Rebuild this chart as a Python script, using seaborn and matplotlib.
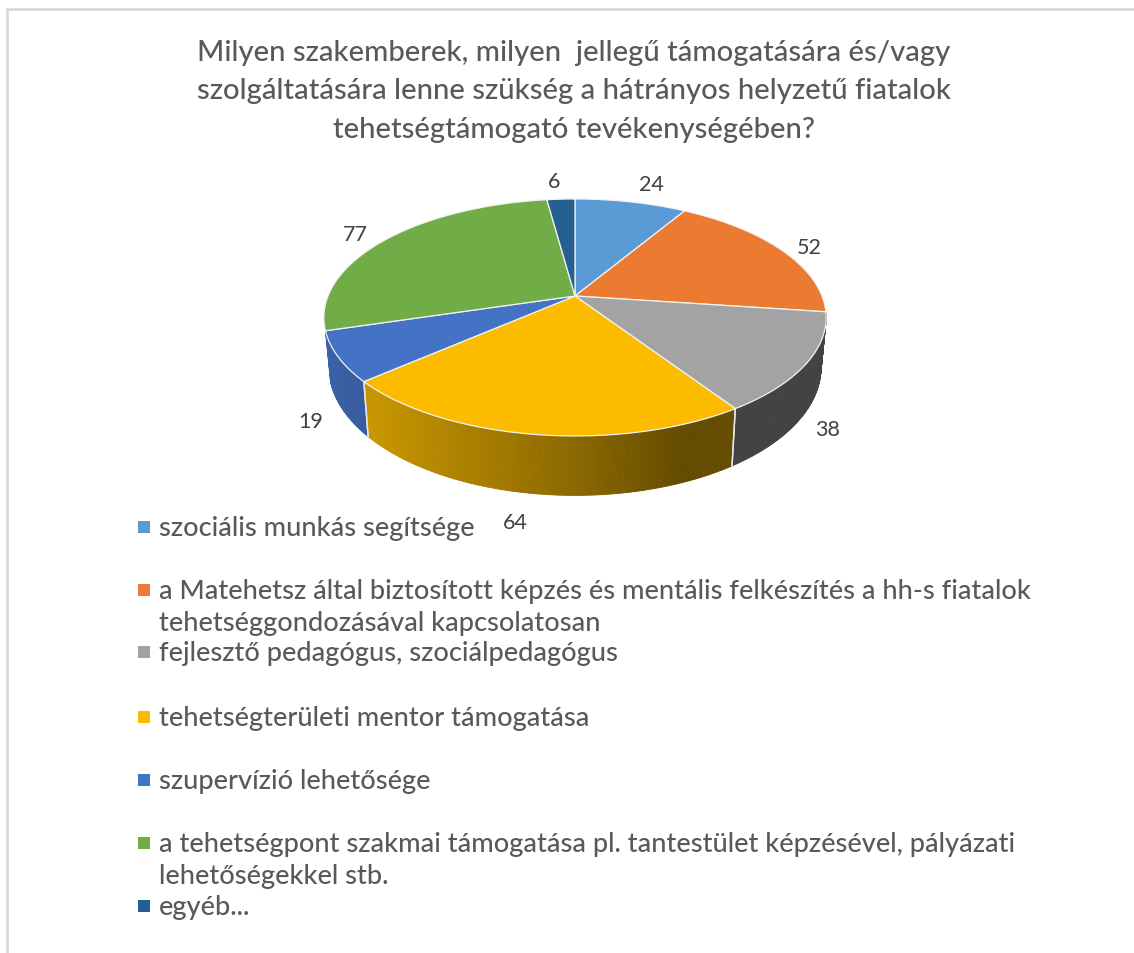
# -*- coding: utf-8 -*-
# 3D looking pie chart (perspective pie) with legend below
import numpy as np
import matplotlib
matplotlib.use('Agg')
import matplotlib.pyplot as plt
import seaborn as sns

title_lines = ['Milyen szakemberek, milyen  jellegű támogatására és/vagy',
               'szolgáltatására lenne szükség a hátrányos helyzetű fiatalok',
               'tehetségtámogató tevékenységében?']
categories = ['szociális munkás segítsége',
              'a Matehetsz által biztosított képzés és mentális felkészítés a hh-s fiatalok\ntehetséggondozásával kapcsolatosan',
              'fejlesztő pedagógus, szociálpedagógus',
              'tehetségterületi mentor támogatása',
              'szupervízió lehetősége',
              'a tehetségpont szakmai támogatása pl. tantestület képzésével, pályázati\nlehetőségekkel stb.',
              'egyéb...']
values = [24, 52, 38, 64, 19, 77, 6]
palette = sns.color_palette(['#5B9BD5', '#EB7B30', '#A3A3A3', '#FBBC00', '#4472C4', '#70AD47', '#255E91'])

sns.set_style('white')
plt.rcParams['font.family'] = ['Lato', 'DejaVu Sans']
GREY = '#595959'

fig = plt.figure(figsize=(11.34, 9.54), dpi=100)
ax = fig.add_axes([0, 0, 1, 1])
ax.set_xlim(0, 1134)
ax.set_ylim(954, 0)
ax.axis('off')

# chart frame, runs off the picture on the right and the bottom
ax.plot([1134, 7, 7], [10, 10, 954], color='#D9D9D9', lw=2, solid_joinstyle='miter')


# angle clockwise from 12 o'clock -> picture coordinates with perspective
def project(theta, cx, cy, k, a, c=0.181):
    x = np.sin(theta)
    y = np.cos(theta)
    d = 1 + c * y
    return cx + k * x / d, cy - a * y / d


def top(theta):
    return project(theta, 575, 297, 247, 114.6)


def bottom(theta):
    return project(theta, 575, 345, 242, 124)


# how dark the side wall gets going left to right
def shade(px):
    return np.interp(px, [330, 367, 570, 680, 830], [0.85, 0.80, 0.56, 0.40, 0.41])


edges = np.concatenate([[0], np.cumsum(values)]) / sum(values) * 2 * np.pi

# side wall, only slices facing us
for i in range(len(values)):
    mid = (edges[i] + edges[i + 1]) / 2
    if np.cos(mid) > 0:
        continue
    th = np.linspace(edges[i], edges[i + 1], int(np.degrees(edges[i + 1] - edges[i])) * 2 + 2)
    for t0, t1 in zip(th[:-1], th[1:]):
        x0, y0 = top(t0)
        x1, y1 = top(t1)
        x2, y2 = bottom(t1)
        x3, y3 = bottom(t0)
        col = np.array(palette[i]) * shade((x0 + x1 + x2 + x3) / 4)
        ax.fill([x0, x1, x2, x3], [y0, y1, y2, y3], color=col, lw=0.6, zorder=2)
    xb, yb = bottom(np.array([edges[i], edges[i + 1]]))
    xt, yt = top(np.array([edges[i], edges[i + 1]]))
    for j in range(2):
        # no white seam on the outer ends of the wall
        if (i == 2 and j == 0) or (i == 4 and j == 1):
            continue
        ax.plot([xt[j], xb[j]], [yt[j], yb[j]], color='#E8E8E8', lw=1, zorder=3)

# top face
for i in range(len(values)):
    th = np.linspace(edges[i], edges[i + 1], 200)
    px, py = top(th)
    px = np.concatenate([[575], px])
    py = np.concatenate([[297], py])
    ax.fill(px, py, facecolor=palette[i], edgecolor='#F2F2F2', lw=0.9, zorder=4, joinstyle='round')

# title
for line, y in zip(title_lines, [53, 91, 130]):
    ax.text(574, y, line, ha='center', va='center', fontsize=21.05, color=GREY, fontweight='medium')

# data labels
label_x = [651, 809, 828, 515, 311, 355, 554]
label_y = [185, 248, 430, 523, 422, 235, 182]
for v, x, y in zip(values, label_x, label_y):
    ax.text(x, y, str(v), ha='center', va='center', fontsize=15.5, color='#404040')

# legend, rows are not evenly spaced in the original
legend_y = [529, 592, 654, 719, 782, 845, 908]
for name, col, y in zip(categories, palette, legend_y):
    ax.plot([143.5], [y - 1], marker='s', ms=8, color=col, mew=0, ls='none')
    for n, part in enumerate(name.split('\n')):
        ax.text(159, y + n * 32, part, ha='left', va='center', fontsize=19.5, color=GREY, fontweight='medium')

fig.savefig('out.png', dpi=100)
